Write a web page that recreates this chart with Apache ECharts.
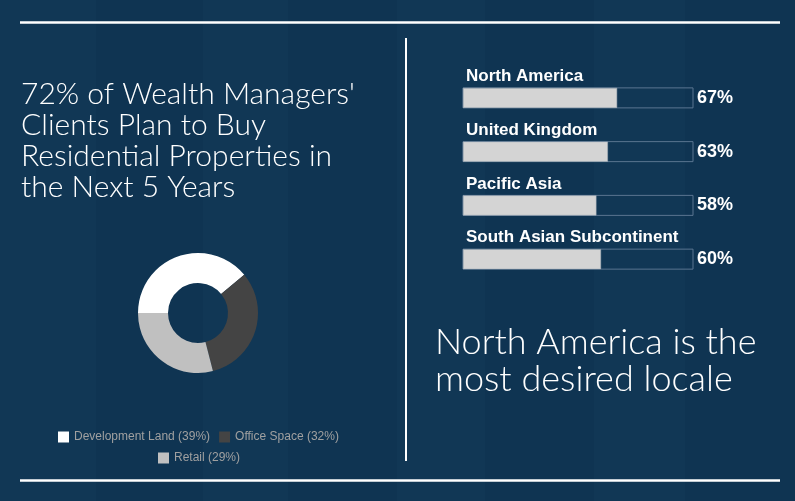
<!DOCTYPE html>
<html><head><meta charset="utf-8">
<script src="https://cdn.jsdelivr.net/npm/echarts@6/dist/echarts.min.js"></script>
<style>html,body{margin:0;padding:0;background:#0f3452;}#c{width:795px;height:501px;}</style>
</head><body><div id="c"></div>
<script>
const pieNames = ['Development Land', 'Office Space', 'Retail'];
const pieValues = [39, 32, 29];
const pieColors = ['#ffffff', '#444444', '#c0c0c0'];
const regions = ['North America', 'United Kingdom', 'Pacific Asia', 'South Asian Subcontinent'];
const regionValues = [67, 63, 58, 60];
const leftHeadline = "72% of Wealth Managers'\nClients Plan to Buy\nResidential Properties in\nthe Next 5 Years";
const rightHeadline = "North America is the\nmost desired locale";

const chart = echarts.init(document.getElementById('c'), null, {renderer: 'canvas'});
const stripes = [[0, 96], [203, 288], [397, 485], [594, 685]];
const graphics = stripes.map(s => ({type: 'rect', z: -10, silent: true,
  shape: {x: s[0], y: 0, width: s[1] - s[0], height: 501}, style: {fill: '#113755'}}));
graphics.push(
  {type: 'line', shape: {x1: 20, y1: 22.5, x2: 780, y2: 22.5}, style: {stroke: '#ffffff', lineWidth: 2.5}},
  {type: 'line', shape: {x1: 20, y1: 480.5, x2: 780, y2: 480.5}, style: {stroke: '#ffffff', lineWidth: 2.5}},
  {type: 'line', shape: {x1: 406, y1: 38, x2: 406, y2: 461}, style: {stroke: '#ffffff', lineWidth: 2}},
  {type: 'text', left: 21, top: 79, style: {text: leftHeadline, fill: '#ffffff',
    font: '300 30px Lato', lineHeight: 31}},
  {type: 'text', left: 435, top: 324, style: {text: rightHeadline, fill: '#ffffff',
    font: '300 36px Lato', lineHeight: 37}}
);

const pieData = pieNames.map((n, i) => ({name: n, value: pieValues[i], itemStyle: {color: pieColors[i]}}));
const legendCommon = {
  orient: 'horizontal', itemWidth: 11, itemHeight: 11, itemGap: 9, icon: 'rect', padding: 0,
  textStyle: {color: '#a0a0a0', fontSize: 12, fontFamily: 'Liberation Sans'},
  formatter: name => name + ' (' + pieValues[pieNames.indexOf(name)] + '%)',
  selectedMode: false
};

chart.setOption({
  backgroundColor: '#0f3452',
  animation: false,
  graphic: graphics,
  legend: [
    Object.assign({data: [pieNames[0], pieNames[1]], left: 58, top: 431}, legendCommon),
    Object.assign({data: [pieNames[2]], left: 158, top: 452}, legendCommon)
  ],
  grid: {left: 463, top: 71, width: 230, height: 215},
  xAxis: {type: 'value', min: 0, max: 100, show: false},
  yAxis: {
    type: 'category', data: regions, inverse: true, position: 'right',
    axisLine: {show: false}, axisTick: {show: false}, splitLine: {show: false},
    axisLabel: {margin: 4, color: '#ffffff', fontSize: 18, fontWeight: 'bold', fontFamily: 'Liberation Sans',
      formatter: (v, i) => regionValues[i] + '%'}
  },
  series: [
    {
      type: 'pie', center: [198, 313], radius: [30, 60], startAngle: 180,
      label: {show: false}, labelLine: {show: false}, silent: true,
      data: pieData
    },
    {
      type: 'bar', data: regionValues, barWidth: 20, silent: true,
      itemStyle: {color: '#d4d4d4', borderColor: '#a9b2ba', borderWidth: 0.5},
      showBackground: true,
      backgroundStyle: {color: 'rgba(0,0,0,0)', borderColor: '#5a7590', borderWidth: 1},
      label: {show: true, position: [3, -3], align: 'left', verticalAlign: 'bottom',
        formatter: p => p.name, color: '#ffffff', fontSize: 17, fontWeight: 'bold', fontFamily: 'Liberation Sans'}
    }
  ]
});
</script></body></html>
